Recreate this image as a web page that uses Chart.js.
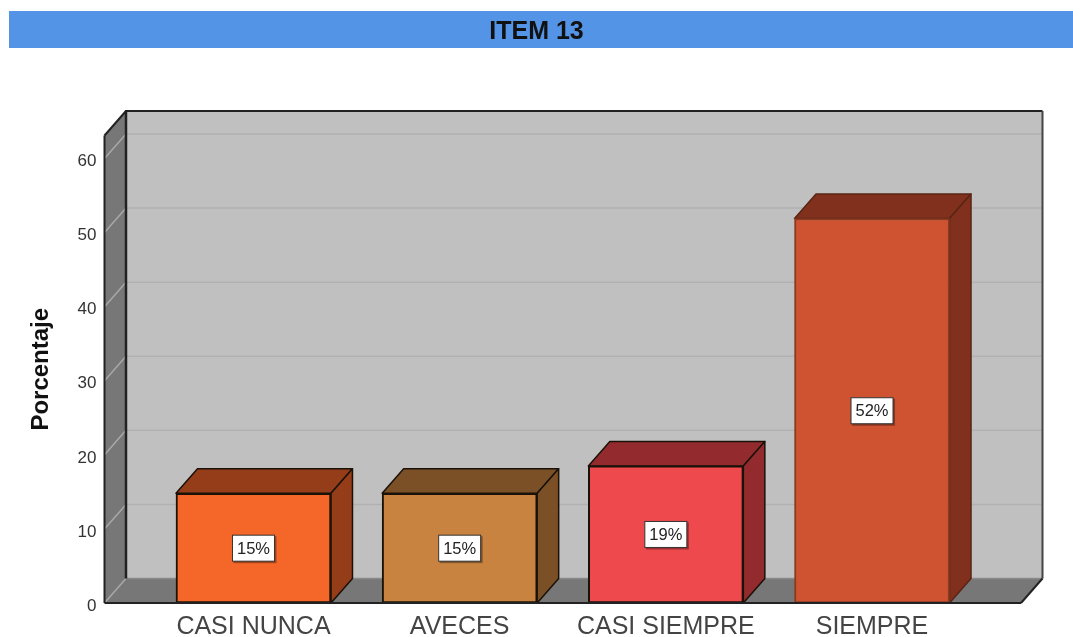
<!DOCTYPE html>
<html>
<head>
<meta charset="utf-8">
<style>html,body{margin:0;padding:0;background:#fff}canvas{display:block}</style>
<script src="https://cdn.jsdelivr.net/npm/chart.js@4/dist/chart.umd.min.js"></script>
</head>
<body>
<canvas id="c" width="1073" height="637"></canvas>
<script>
const categories = ['CASI NUNCA', 'AVECES', 'CASI SIEMPRE', 'SIEMPRE'];
const percentages = [14.8, 14.8, 18.5, 51.9];
const valueLabels = ['15%', '15%', '19%', '52%'];
const yTicks = [0, 10, 20, 30, 40, 50, 60];
const frontColors = ['#f56729', '#c98340', '#ee494c', '#d05331'];
const darkColors = ['#953d18', '#7b5026', '#932b2e', '#80301d'];
const titleText = 'ITEM 13';
const yTitle = 'Porcentaje';

const DX = 21.5, DY = -24.5;
const FONT = '"Liberation Sans", Arial, sans-serif';

function poly(ctx, pts, fill, stroke, lw) {
  ctx.beginPath();
  pts.forEach((p, i) => i ? ctx.lineTo(p[0], p[1]) : ctx.moveTo(p[0], p[1]));
  ctx.closePath();
  if (fill) { ctx.fillStyle = fill; ctx.fill(); }
  if (stroke) { ctx.strokeStyle = stroke; ctx.lineWidth = lw || 1; ctx.lineJoin = 'round'; ctx.stroke(); }
}
function line(ctx, x1, y1, x2, y2, col, lw) {
  ctx.beginPath(); ctx.moveTo(x1, y1); ctx.lineTo(x2, y2);
  ctx.strokeStyle = col; ctx.lineWidth = lw; ctx.stroke();
}

const band = {
  id: 'band',
  beforeDraw(chart) {
    const ctx = chart.ctx;
    ctx.save();
    ctx.fillStyle = '#ffffff'; ctx.fillRect(0, 0, chart.width, chart.height);
    ctx.fillStyle = '#5494e6'; ctx.fillRect(9, 11, chart.width - 9, 37);
    ctx.restore();
  }
};

const box3d = {
  id: 'box3d',
  beforeDatasetsDraw(chart) {
    const ctx = chart.ctx, a = chart.chartArea, y = chart.scales.y;
    const L = a.left, R = a.right, T = a.top, B = a.bottom;
    ctx.save();
    // walls and floor
    poly(ctx, [[L + DX, T + DY], [R + DX, T + DY], [R + DX, B + DY], [L + DX, B + DY]], '#c0c0c0');
    poly(ctx, [[L, T], [L + DX, T + DY], [L + DX, B + DY], [L, B]], '#777777');
    poly(ctx, [[L, B], [L + DX, B + DY], [R + DX, B + DY], [R, B]], '#777777');
    // grid lines
    yTicks.forEach(t => {
      const p = y.getPixelForValue(t);
      if (t > 0) line(ctx, L + DX, p + DY, R + DX, p + DY, '#b1b1b1', 1.5);
      line(ctx, L, p, L + DX, p + DY, '#a8a8a8', 1.5);
    });
    // frame
    line(ctx, L + DX, B + DY, R + DX, B + DY, '#8a8a8a', 1.5);
    line(ctx, L + DX - 1, T + DY, R + DX, T + DY, '#222222', 2);
    line(ctx, L + DX, T + DY, L + DX, B + DY, '#222222', 2.5);
    line(ctx, R + DX, T + DY, R + DX, B + DY, '#444444', 2);
    line(ctx, L, T, L + DX, T + DY, '#222222', 2);
    line(ctx, L, T, L, B, '#222222', 2);
    line(ctx, R, B, R + DX, B + DY, '#222222', 2);
    // bar sides and tops
    chart.getDatasetMeta(0).data.forEach((bar, i) => {
      const x1 = bar.x - bar.width / 2, x2 = bar.x + bar.width / 2, top = bar.y, base = bar.base;
      const edge = i === 3 ? '#5a2414' : '#1a1208';
      poly(ctx, [[x1, top], [x1 + DX, top + DY], [x2 + DX, top + DY], [x2, top]], darkColors[i], edge, 1.5);
      poly(ctx, [[x2, top], [x2 + DX, top + DY], [x2 + DX, base + DY], [x2, base]], darkColors[i], edge, 1.5);
    });
    ctx.restore();
  },
  afterDatasetsDraw(chart) {
    const ctx = chart.ctx, a = chart.chartArea;
    ctx.save();
    line(ctx, a.left, a.bottom, a.right, a.bottom, '#222222', 2);
    chart.getDatasetMeta(0).data.forEach((bar, i) => {
      const cx = bar.x, cy = (bar.y + bar.base) / 2, w = 42, h = 26;
      ctx.fillStyle = 'rgba(0,0,0,0.35)';
      ctx.fillRect(cx - w / 2 + 1, cy - h / 2 + 1, w + 1, h + 1);
      ctx.fillStyle = '#ffffff';
      ctx.fillRect(cx - w / 2, cy - h / 2, w, h);
      ctx.strokeStyle = '#333333'; ctx.lineWidth = 1;
      ctx.strokeRect(cx - w / 2, cy - h / 2, w, h);
      ctx.fillStyle = '#222222';
      ctx.font = '16.5px ' + FONT;
      ctx.textAlign = 'center'; ctx.textBaseline = 'middle';
      ctx.fillText(valueLabels[i], cx, cy + 1);
    });
    ctx.restore();
  }
};

new Chart(document.getElementById('c'), {
  type: 'bar',
  data: {
    datasets: [{
      data: percentages.map((v, i) => ({ x: i, y: v })),
      backgroundColor: frontColors,
      borderColor: ['#1a1208', '#1a1208', '#1a1208', '#8a3a20'],
      borderWidth: 2,
      borderSkipped: false,
      barThickness: 155
    }]
  },
  options: {
    responsive: false,
    animation: false,
    events: [],
    layout: { padding: 0 },
    plugins: {
      legend: { display: false },
      tooltip: { enabled: false },
      title: {
        display: true,
        text: titleText,
        color: '#111111',
        font: { family: FONT, size: 25, weight: 'bold' },
        padding: { top: 17, bottom: 88.5 }
      }
    },
    scales: {
      x: {
        type: 'linear',
        offset: false,
        min: -0.7226,
        max: 3.7226,
        grid: { display: false, drawTicks: false },
        border: { display: false },
        afterBuildTicks(ax) { ax.ticks = categories.map((c, i) => ({ value: i })); },
        afterFit(ax) { ax.height = 34; },
        ticks: {
          padding: 9,
          autoSkip: false,
          maxRotation: 0,
          minRotation: 0,
          color: '#444444',
          font: { family: FONT, size: 25 },
          callback: v => categories[v]
        }
      },
      y: {
        min: 0,
        max: 63.1,
        grid: { display: false, drawTicks: false },
        border: { display: false },
        afterFit(ax) { ax.width = 104.5; },
        afterBuildTicks(ax) { ax.ticks = yTicks.map(v => ({ value: v })); },
        title: {
          display: true,
          text: yTitle,
          color: '#111111',
          font: { family: FONT, size: 24, weight: 'bold' },
          padding: { top: 27, bottom: 0 }
        },
        ticks: {
          padding: 8,
          labelOffset: 3,
          color: '#333333',
          font: { family: FONT, size: 17 }
        }
      },
      rightGutter: {
        type: 'linear',
        position: 'right',
        display: true,
        min: 0,
        max: 1,
        grid: { display: false, drawTicks: false },
        border: { display: false },
        ticks: { display: false },
        afterFit(ax) { ax.width = 52; }
      }
    }
  },
  plugins: [band, box3d]
});
</script>
</body>
</html>
